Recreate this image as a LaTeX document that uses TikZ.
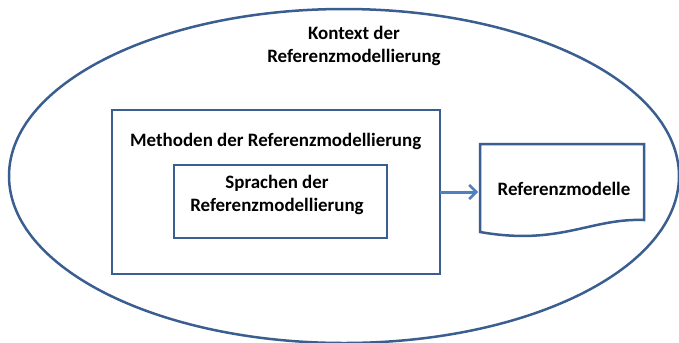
\documentclass[tikz,border=0pt]{standalone}
\usepackage{fontspec}
\setmainfont{Carlito}
\usetikzlibrary{arrows.meta}
\definecolor{outl}{HTML}{3B5E91}
\definecolor{arr}{HTML}{4F81BD}
\tikzset{
  px/.style={x=1bp,y=-1bp},
  frame/.style={draw=outl,line width=2.5bp},
  lbl/.style={font=\bfseries\fontsize{19}{23.5}\selectfont,align=center,inner sep=0pt},
}
\begin{document}
\begin{tikzpicture}[px]
\useasboundingbox (0,0) rectangle (679,342);
\begin{scope}
\clip (0,0) rectangle (679,342);
\draw[frame] (344,176) ellipse [x radius=335, y radius=167];
\end{scope}
\node[lbl] (ctx) at (354,46) {Kontext der\\Referenzmodellierung};
\draw[frame] (112,110) rectangle (440,274);
\coordinate (mright) at (440,192);
\node[lbl,anchor=west] (meth) at (130,141) {Methoden der Referenzmodellierung};
\draw[frame] (174,165) rectangle (387,238);
\node[lbl] (spr) at (277,195) {Sprachen der\\Referenzmodellierung};
\draw[frame] (480,144) -- (644,144) -- (644,220) .. controls (590,218) and (560,246) .. (480,232) -- cycle;
\node[lbl] (ref) at (564,189) {Referenzmodelle};
\coordinate (docleft) at (478,192);
\draw[draw=arr,line width=3bp,-{Straight Barb[length=7bp,width=14bp,line width=2.5bp]}] (mright) -- (docleft);
\end{tikzpicture}
\end{document}
